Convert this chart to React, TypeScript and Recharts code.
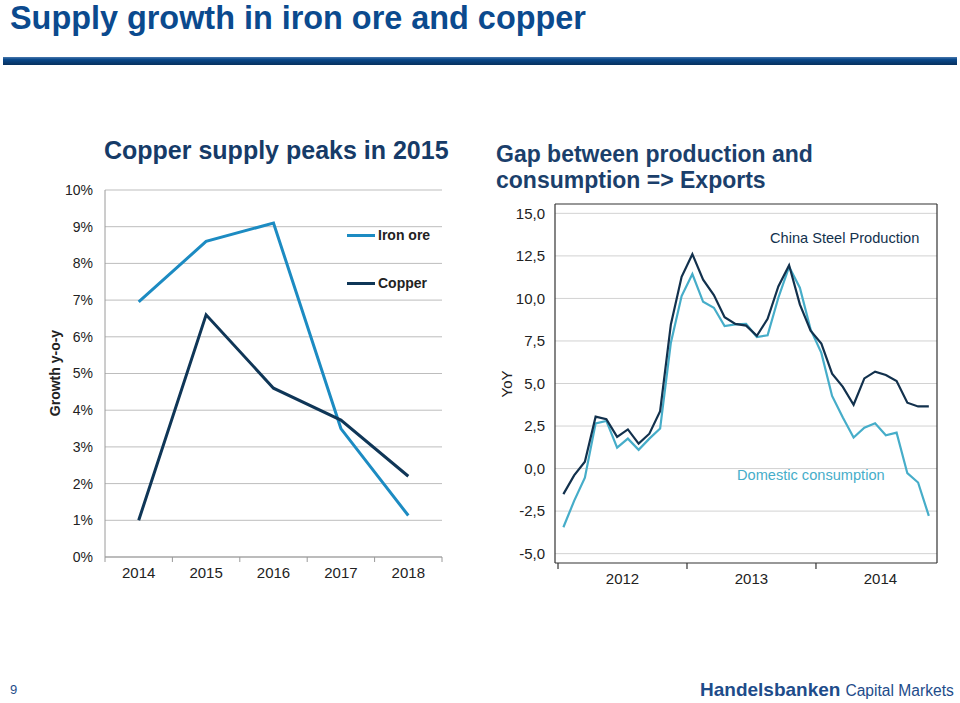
import React from 'react';
import { LineChart, Line, XAxis, YAxis, CartesianGrid, ReferenceLine } from 'recharts';

// left chart: supply growth y-o-y (%)
const YEARS = ['2014', '2015', '2016', '2017', '2018'];
const IRON_ORE = [6.95, 8.6, 9.1, 3.5, 1.13];
const COPPER = [1.0, 6.6, 4.6, 3.73, 2.2];
const PCT_TICKS = [0, 1, 2, 3, 4, 5, 6, 7, 8, 9, 10];

// right chart: China steel, YoY, monthly Jan 2012 - Nov 2014
const STEEL_YEARS = ['2012', '2013', '2014'];
const PRODUCTION = [
  -1.5, -0.4, 0.4, 3.05, 2.9, 1.86, 2.3, 1.47, 2.05, 3.37, 8.47, 11.27,
  12.6, 11.1, 10.2, 8.9, 8.5, 8.4, 7.8, 8.8, 10.7, 11.95, 9.65, 8.1,
  7.35, 5.58, 4.8, 3.75, 5.3, 5.7, 5.5, 5.15, 3.87, 3.65, 3.65,
];
const CONSUMPTION = [
  -3.45, -1.9, -0.53, 2.66, 2.8, 1.23, 1.76, 1.1, 1.76, 2.35, 7.4, 10.14,
  11.43, 9.8, 9.45, 8.38, 8.47, 8.5, 7.73, 7.83, 10.04, 11.86, 10.63, 8.18,
  6.8, 4.27, 3.0, 1.82, 2.4, 2.66, 1.96, 2.11, -0.27, -0.82, -2.78,
];
const YOY_TICKS = [-5, -2.5, 0, 2.5, 5, 7.5, 10, 12.5, 15];

const FONT = '"Liberation Sans", Arial, sans-serif';
const IRON_COLOR = '#1c8bc2';
const COPPER_COLOR = '#0f3657';
const PROD_COLOR = '#12314d';
const CONS_COLOR = '#46adc9';

const supplyData = YEARS.map((y, i) => ({ x: i + 0.5, year: y, iron: IRON_ORE[i], copper: COPPER[i] }));
const steelData = PRODUCTION.map((p, i) => ({ t: i + 0.5, prod: p, cons: CONSUMPTION[i] }));

function YearTick(props: any) {
  const { x, y, payload } = props;
  const v = payload.value as number;
  if (Number.isInteger(v)) {
    return <line x1={x} x2={x} y1={y} y2={y + 5} stroke="#9a9a9a" />;
  }
  return (
    <text x={x} y={y + 21} textAnchor="middle" fontSize={15} fill="#222" fontFamily={FONT}>
      {YEARS[Math.floor(v)]}
    </text>
  );
}

function SteelTick(props: any) {
  const { x, y, payload } = props;
  const v = payload.value as number;
  if (v % 12 === 0) {
    return <line x1={x} x2={x} y1={y} y2={y + 6} stroke="#333" strokeWidth={1.2} />;
  }
  return (
    <text x={x} y={y + 21} textAnchor="middle" fontSize={15} fill="#222" fontFamily={FONT}>
      {STEEL_YEARS[Math.floor(v / 12)]}
    </text>
  );
}

const abs = (left: number, top: number): React.CSSProperties => ({ position: 'absolute', left, top, whiteSpace: 'nowrap' });

export default function App() {
  return (
    <div style={{ position: 'absolute', left: 0, top: 0, width: 960, height: 703, background: '#fff', fontFamily: FONT, overflow: 'hidden' }}>
      <div style={{ ...abs(10, -2), fontSize: 32.4, fontWeight: 'bold', color: '#0b4a8e', lineHeight: '40px' }}>
        Supply growth in iron ore and copper
      </div>
      <div style={{ ...abs(3, 57), width: 954, height: 8, background: 'linear-gradient(#4a79ad, #0b4a8c 30%, #06305e)' }} />

      {/* left panel */}
      <div style={{ ...abs(104, 135), fontSize: 25, fontWeight: 'bold', color: '#163b68', lineHeight: '30px' }}>
        Copper supply peaks in 2015
      </div>
      <div style={{ ...abs(55, 373), transform: 'translate(-50%, -50%) rotate(-90deg)', fontSize: 14, fontWeight: 'bold', color: '#222' }}>
        Growth y-o-y
      </div>
      <div style={{ ...abs(40, 170) }}>
        <LineChart width={420} height={430} data={supplyData} margin={{ top: 20, right: 18, left: 0, bottom: 13 }}>
          <CartesianGrid vertical={false} stroke="#bdbdbd" />
          <XAxis
            type="number"
            dataKey="x"
            domain={[0, 5]}
            ticks={[0, 0.5, 1, 1.5, 2, 2.5, 3, 3.5, 4, 4.5, 5]}
            interval={0}
            height={30}
            tickSize={0}
            tickMargin={0}
            tick={<YearTick />}
            axisLine={{ stroke: '#9a9a9a' }}
          />
          <YAxis
            domain={[0, 10]}
            ticks={PCT_TICKS}
            width={65}
            tickSize={0}
            tickMargin={12}
            tickFormatter={(v) => `${v}%`}
            tick={{ fontSize: 14, fill: '#222', fontFamily: FONT }}
            axisLine={{ stroke: '#9a9a9a' }}
          />
          <Line dataKey="iron" stroke={IRON_COLOR} strokeWidth={3} dot={false} isAnimationActive={false} strokeLinejoin="miter" />
          <Line dataKey="copper" stroke={COPPER_COLOR} strokeWidth={3} dot={false} isAnimationActive={false} strokeLinejoin="miter" />
        </LineChart>
      </div>
      <div style={{ ...abs(347, 234), width: 28, height: 3, background: IRON_COLOR }} />
      <div style={{ ...abs(378, 227), fontSize: 14, fontWeight: 'bold', color: '#222' }}>Iron ore</div>
      <div style={{ ...abs(347, 282), width: 28, height: 3, background: COPPER_COLOR }} />
      <div style={{ ...abs(378, 275), fontSize: 14, fontWeight: 'bold', color: '#222' }}>Copper</div>

      {/* right panel */}
      <div style={{ ...abs(496, 141), fontSize: 23, fontWeight: 'bold', color: '#1b3f6b', lineHeight: '26px' }}>
        Gap between production and<br />consumption =&gt; Exports
      </div>
      <div style={{ ...abs(506, 384), transform: 'translate(-50%, -50%) rotate(-90deg)', fontSize: 15, color: '#222' }}>
        YoY
      </div>
      <div style={{ ...abs(490, 195) }}>
        <LineChart width={460} height={400} data={steelData} margin={{ top: 9, right: 13, left: 0, bottom: 2 }}>
          <CartesianGrid vertical={false} stroke="#d2d2d2" horizontalValues={YOY_TICKS} />
          <XAxis
            type="number"
            dataKey="t"
            domain={[-0.28, 35.26]}
            allowDataOverflow
            ticks={[0, 6, 12, 18, 24, 30]}
            interval={0}
            height={30}
            tickSize={0}
            tickMargin={0}
            tick={<SteelTick />}
            axisLine={{ stroke: '#333', strokeWidth: 1.2 }}
          />
          <YAxis
            domain={[-5.55, 15.55]}
            allowDataOverflow
            ticks={YOY_TICKS}
            interval={0}
            width={65}
            tickSize={0}
            tickMargin={10}
            tickFormatter={(v) => v.toFixed(1).replace('.', ',')}
            tick={{ fontSize: 15, fill: '#222', fontFamily: FONT }}
            axisLine={{ stroke: '#333', strokeWidth: 1.2 }}
          />
          <ReferenceLine y={15.55} stroke="#333" strokeWidth={1.2} />
          <ReferenceLine x={35.26} stroke="#333" strokeWidth={1.2} />
          <Line dataKey="cons" stroke={CONS_COLOR} strokeWidth={2.2} dot={false} isAnimationActive={false} />
          <Line dataKey="prod" stroke={PROD_COLOR} strokeWidth={2.2} dot={false} isAnimationActive={false} />
        </LineChart>
      </div>
      <div style={{ ...abs(770, 230), fontSize: 14.6, color: '#12314d' }}>China Steel Production</div>
      <div style={{ ...abs(737, 467), fontSize: 14.6, color: CONS_COLOR }}>Domestic consumption</div>

      {/* footer */}
      <div style={{ ...abs(10, 682), fontSize: 13, color: '#1e4c8a' }}>9</div>
      <div style={{ ...abs(700, 679), color: '#1e4c8a' }}>
        <span style={{ fontSize: 19, fontWeight: 'bold' }}>Handelsbanken</span>
        <span style={{ fontSize: 15.6, marginLeft: 5 }}>Capital Markets</span>
      </div>
    </div>
  );
}
